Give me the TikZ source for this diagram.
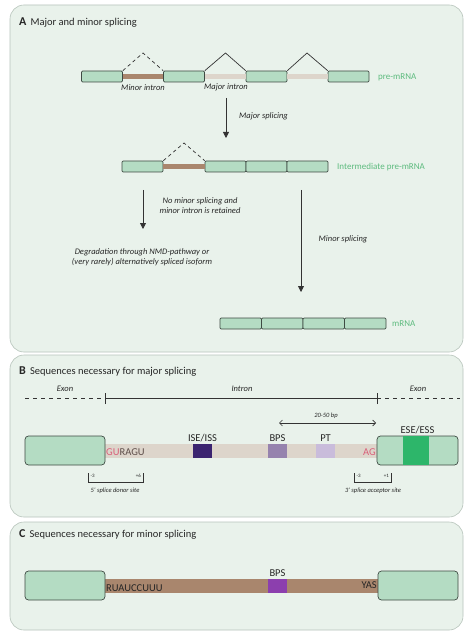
\documentclass[tikz,border=0pt]{standalone}
\usepackage{fontspec}
\setmainfont{Carlito}
\usetikzlibrary{arrows.meta,positioning}
\definecolor{panelfill}{HTML}{E9F2EB}
\definecolor{panelborder}{HTML}{B7C4BB}
\definecolor{exonfill}{HTML}{B4DCC3}
\definecolor{exonborder}{HTML}{3E4A43}
\definecolor{minorintron}{HTML}{A9866D}
\definecolor{majorintron}{HTML}{DDD5CB}
\definecolor{greentext}{HTML}{5DBB7E}
\definecolor{pinktext}{HTML}{D95F79}
\definecolor{darktext}{HTML}{262626}
\definecolor{ragu}{HTML}{5E4E4A}
\definecolor{arrowc}{HTML}{333333}
\definecolor{isebox}{HTML}{3B2470}
\definecolor{bpsb}{HTML}{9683AE}
\definecolor{ptbox}{HTML}{C9BCDB}
\definecolor{esegreen}{HTML}{2DB66A}
\definecolor{bpsc}{HTML}{8C3FAE}
\begin{document}
\begin{tikzpicture}[x=1pt,y=-1pt,
  exon/.style={draw=exonborder, fill=exonfill, line width=0.7pt, rounded corners=1.2pt, minimum width=41pt, minimum height=11pt, inner sep=0pt},
  bigexon/.style={draw=exonborder, fill=exonfill, line width=0.7pt, rounded corners=3.5pt, minimum width=80pt, minimum height=29pt, inner sep=0pt},
  lbl/.style={font=\fontsize{8.5}{10}\selectfont\itshape, text=darktext, inner sep=0pt, align=center},
  tinylbl/.style={font=\fontsize{6.5}{7.5}\selectfont\itshape, text=darktext, inner sep=0pt, align=center},
  numlbl/.style={font=\fontsize{5}{6}\selectfont, text=darktext, inner sep=0pt},
  greenlbl/.style={font=\fontsize{9}{10}\selectfont, text=greentext, inner sep=0pt},
  title/.style={font=\fontsize{10.5}{12}\selectfont, text=darktext, inner sep=0pt, anchor=west},
  seqlbl/.style={font=\fontsize{10.5}{12}\selectfont, text=darktext, inner sep=0pt},
  arr/.style={-{Triangle[length=6pt,width=6pt]}, line width=0.8pt, draw=arrowc},
  caret/.style={line width=0.7pt, draw=arrowc},
  dashcaret/.style={caret, dash pattern=on 3.5pt off 3pt},
  minorbar/.style={line width=4.5pt, draw=minorintron},
  majorbar/.style={line width=4.5pt, draw=majorintron},
  panel/.style={draw=panelborder, fill=panelfill, line width=0.6pt, rounded corners=14pt},
  seqbox/.style={minimum width=19pt, minimum height=14pt, inner sep=0pt},
  bracket/.style={line width=0.6pt, draw=arrowc},
  scaleline/.style={line width=0.6pt, draw=arrowc}
]
\useasboundingbox[fill=white] (0,0) rectangle (474,636);
% panels
\draw[panel] (10,5) rectangle (463,352);
\draw[panel] (10,355) rectangle (463,517);
\draw[panel] (10,522) rectangle (463,630);

% ---------------- Panel A ----------------
\node[title] (ta) at (19,23) {\textbf{\fontsize{12}{13}\selectfont A}\, Major and minor splicing};

\node[exon] (a1) at (102,76.5) {};
\node[exon] (a2) at (184,76.5) {};
\node[exon] (a3) at (266.5,76.5) {};
\node[exon] (a4) at (348.5,76.5) {};
\draw[minorbar] (a1.east) -- (a2.west);
\draw[majorbar] (a2.east) -- (a3.west);
\draw[majorbar] (a3.east) -- (a4.west);
\coordinate (p1) at (143,53);
\coordinate (p2) at (225.5,53);
\coordinate (p3) at (307,53);
\draw[dashcaret] (a1.north east) -- (p1) -- (a2.north west);
\draw[caret] (a2.north east) -- (p2) -- (a3.north west);
\draw[caret] (a3.north east) -- (p3) -- (a4.north west);
\node[lbl] (lminor) at (143,87.5) {Minor intron};
\node[lbl] (lmajor) at (226,87.5) {Major intron};
\node[greenlbl, anchor=west] (lpre) at (378,77) {pre-mRNA};

\coordinate (ms0) at (226,98);
\coordinate (ms1) at (226,138);
\draw[arr] (ms0) -- (ms1);
\node[lbl, anchor=west] (lms) at (239,116) {Major splicing};

\node[exon] (b1) at (142.5,166.5) {};
\node[exon] (b2) at (225.5,166.5) {};
\node[exon] (b3) at (266.5,166.5) {};
\node[exon] (b4) at (307.5,166.5) {};
\draw[minorbar] (b1.east) -- (b2.west);
\coordinate (q1) at (184,143);
\draw[dashcaret] (b1.north east) -- (q1) -- (b2.north west);
\node[greenlbl, anchor=west] (linter) at (337,167) {Intermediate pre-mRNA};

\coordinate (la0) at (143,190);
\coordinate (la1) at (143,229);
\draw[arr] (la0) -- (la1);
\node[lbl] (lno) at (200,206) {No minor splicing and\\minor intron is retained};
\node[lbl] (ldeg) at (142,257) {Degradation through NMD-pathway or\\(very rarely) alternatively spliced isoform};

\coordinate (ra0) at (301,190);
\coordinate (ra1) at (301,292);
\draw[arr] (ra0) -- (ra1);
\node[lbl] (lmin) at (343,239) {Minor splicing};

\node[exon, minimum width=41.5pt] (c1) at (240.75,323.5) {};
\node[exon, minimum width=41.5pt] (c2) at (282.25,323.5) {};
\node[exon, minimum width=41.5pt] (c3) at (323.75,323.5) {};
\node[exon, minimum width=41.5pt] (c4) at (365.25,323.5) {};
\node[greenlbl, anchor=west] (lmrna) at (392,323.5) {mRNA};

% ---------------- Panel B ----------------
\node[title] (tb) at (19,372) {\textbf{\fontsize{12}{13}\selectfont B}\, Sequences necessary for major splicing};
\coordinate (s0) at (25,398);
\coordinate (s1) at (105,398);
\coordinate (s2) at (377,398);
\coordinate (s3) at (460,398);
\draw[scaleline, dash pattern=on 4pt off 4pt] (s0) -- (s1);
\draw[scaleline] (s1) -- (s2);
\draw[scaleline, dash pattern=on 4pt off 4pt] (s2) -- (s3);
\draw[scaleline] ([yshift=-6pt]s1) -- ([yshift=5pt]s1);
\draw[scaleline] ([yshift=-6pt]s2) -- ([yshift=5pt]s2);
\node[lbl] (lex1) at (65,389) {Exon};
\node[lbl] (lintr) at (242,389) {Intron};
\node[lbl] (lex2) at (418,389) {Exon};

\node[fill=majorintron, minimum width=272pt, minimum height=14pt, inner sep=0pt] (bint) at (241,451) {};
\node[bigexon] (bx1) at (65,450.5) {};
\node[bigexon, minimum width=81pt] (bx2) at (417.5,450.5) {};
\node[fill=esegreen, minimum width=26pt, minimum height=28.2pt, inner sep=0pt] (ese) at (416,450.5) {};
\node[seqlbl, above=1.5pt of bx2] (lese) {ESE/ESS};

\node[seqbox, fill=isebox] (ise) at (202.5,451) {};
\node[seqbox, fill=bpsb] (bps) at (277.5,451) {};
\node[seqbox, fill=ptbox] (pt) at (325.5,451) {};
\node[seqlbl, above=2pt of ise] (lise) {ISE/ISS};
\node[seqlbl, above=2pt of bps] (lbps) {BPS};
\node[seqlbl, above=2pt of pt] (lpt) {PT};

\node[seqlbl, anchor=west] (gu) at (106,452) {\textcolor{pinktext}{GU}\textcolor{ragu}{RAGU}};
\node[seqlbl, anchor=east, text=pinktext] (ag) at (376,452) {AG};

\coordinate (d0) at (279,423);
\coordinate (d1) at (376,423);
\draw[{Straight Barb[length=3pt,width=6pt]}-{Straight Barb[length=3pt,width=6pt]}, line width=0.6pt, draw=arrowc] (d0) -- (d1);
\node[tinylbl] (lbp) at (326,416) {20-50 bp};

\coordinate (k0) at (88,473);
\coordinate (k1) at (143,473);
\draw[bracket] (k0) -- ([yshift=-9pt]k0) -- ([yshift=-9pt]k1) -- (k1);
\node[numlbl, anchor=west] (km3) at (90.5,476) {-3};
\node[numlbl, anchor=east] (kp6) at (141,476) {+6};
\node[tinylbl] (l5ss) at (115,491) {5' splice donor site};

\coordinate (r0) at (354,473);
\coordinate (r1) at (391,473);
\draw[bracket] (r0) -- ([yshift=-9pt]r0) -- ([yshift=-9pt]r1) -- (r1);
\node[numlbl, anchor=west] (rm3) at (356.5,476) {-3};
\node[numlbl, anchor=east] (rp1) at (389,476) {+1};
\node[tinylbl] (l3ss) at (373,491) {3' splice acceptor site};

% ---------------- Panel C ----------------
\node[title] (tc) at (19,534) {\textbf{\fontsize{12}{13}\selectfont C}\, Sequences necessary for minor splicing};
\node[fill=minorintron, minimum width=273pt, minimum height=14pt, inner sep=0pt] (cint) at (241.5,586) {};
\node[bigexon] (cx1) at (65,585.5) {};
\node[bigexon] (cx2) at (418,585.5) {};
\node[seqbox, fill=bpsc] (cbps) at (277.5,586) {};
\node[seqlbl, above=2pt of cbps] (lcbps) {BPS};
\node[seqlbl, anchor=west, text=darktext] (ru) at (106,588) {RUAUCCUUU};
\node[seqlbl, anchor=east, text=darktext] (yas) at (377,585) {YAS};
\end{tikzpicture}
\end{document}
